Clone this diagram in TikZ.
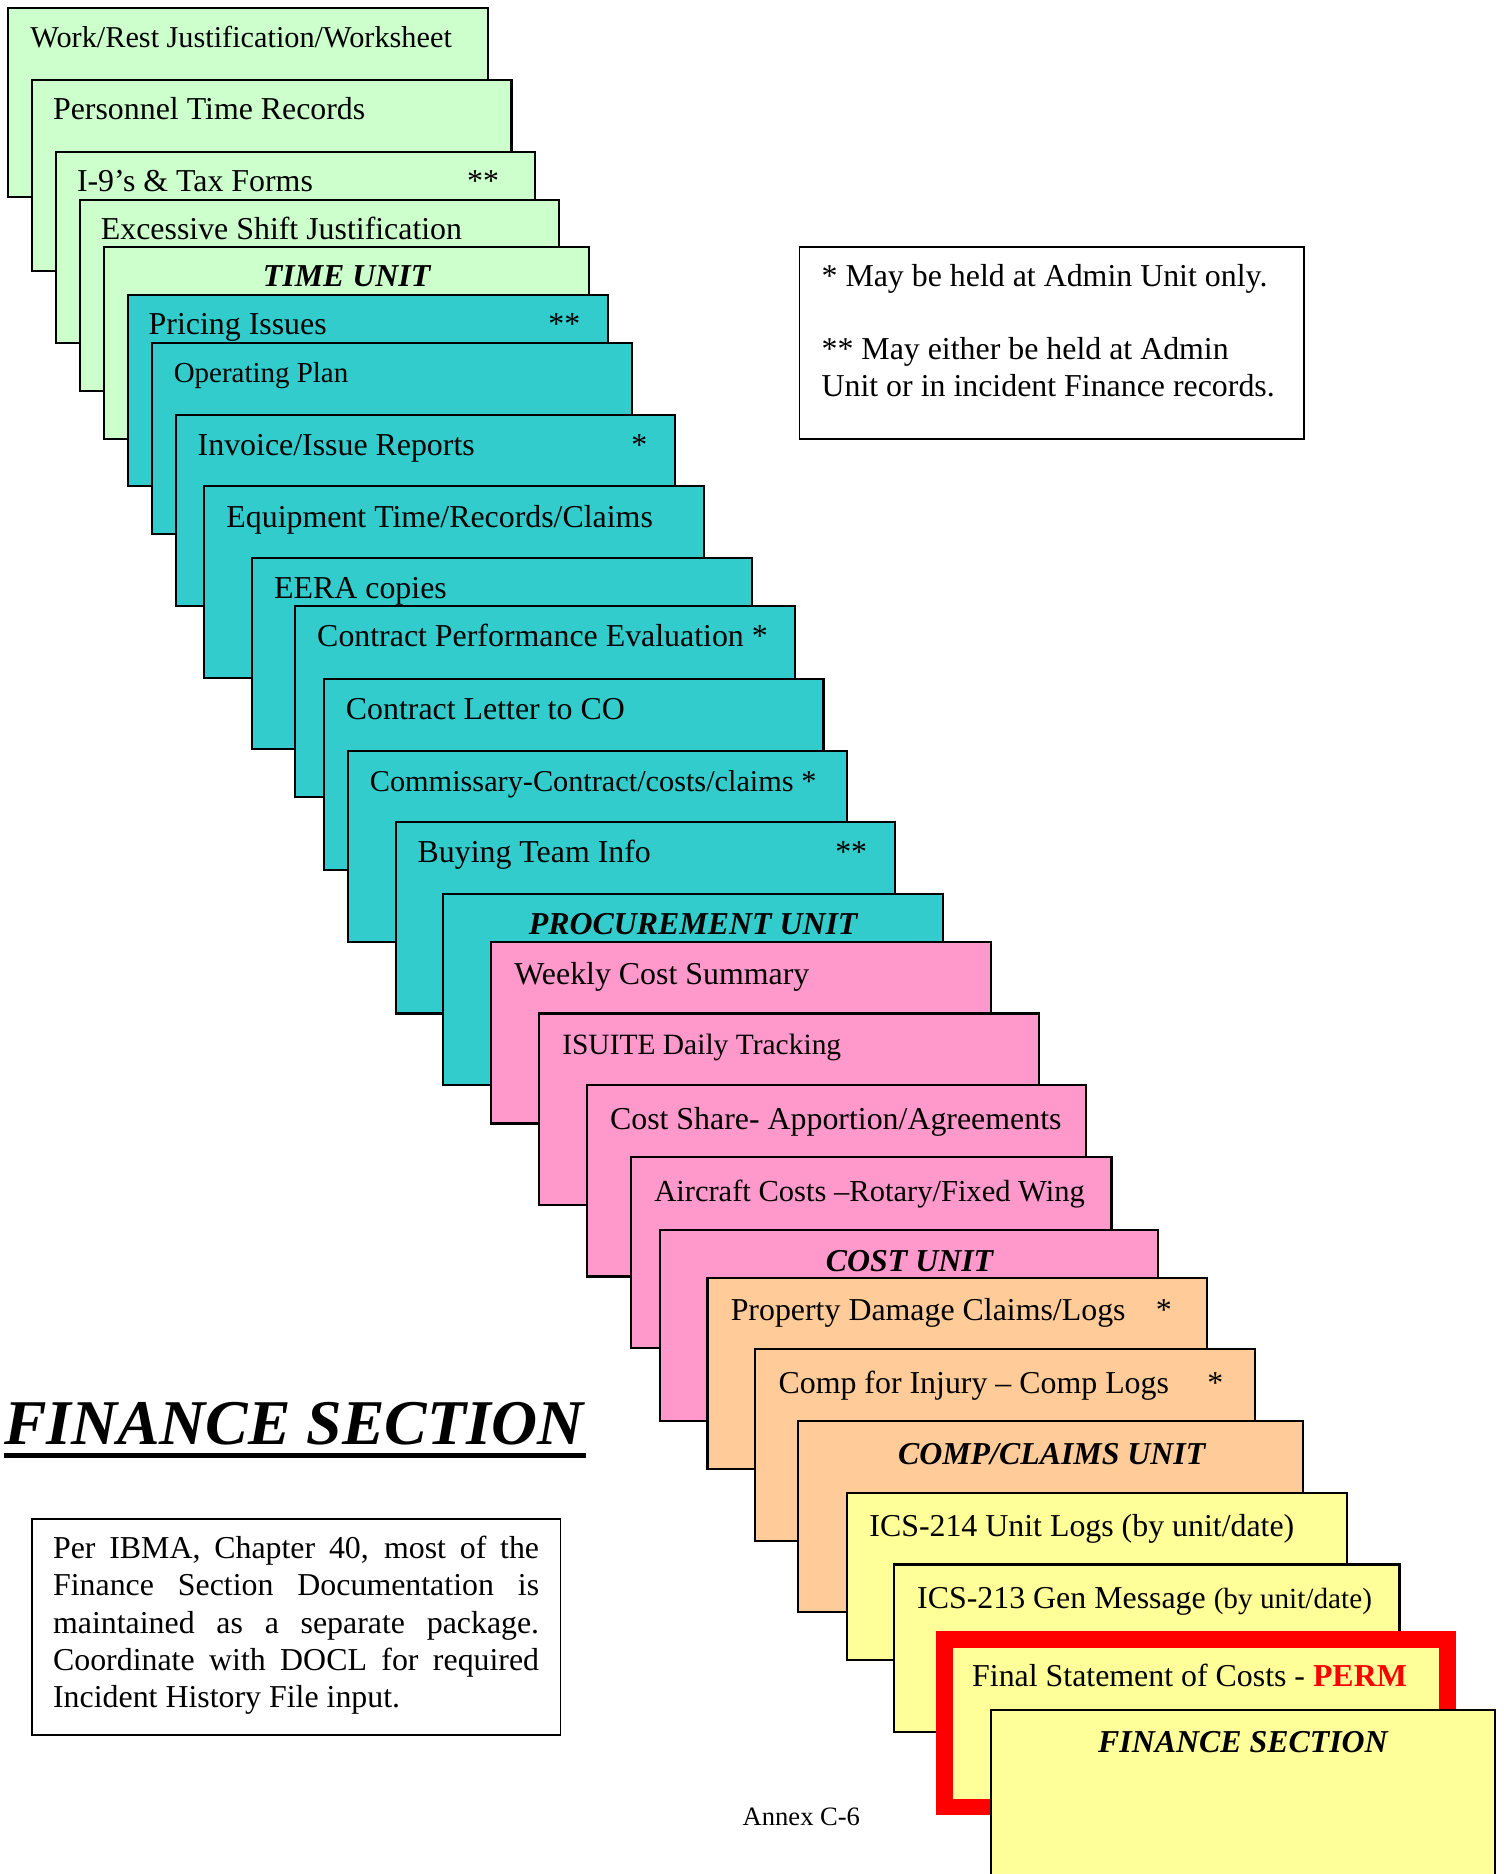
\documentclass[tikz,border=0pt]{standalone}
\usepackage{fontspec}
\setmainfont{Liberation Serif}
\usetikzlibrary{calc}
\definecolor{timegreen}{HTML}{CCFFCC}
\definecolor{procteal}{HTML}{33CCCC}
\definecolor{costpink}{HTML}{FF99CC}
\definecolor{claimpeach}{HTML}{FFCC99}
\definecolor{finyellow}{HTML}{FFFF99}
\tikzset{
  card/.style={draw=black, line width=0.8pt},
  redframe/.style={draw=red, line width=6.3pt},
  cardtext/.style={anchor=base west, inner sep=0pt, font=\fontsize{12}{14}\selectfont},
  smalltext/.style={cardtext, font=\fontsize{#1}{13}\selectfont},
  starmark/.style={anchor=base east, inner sep=0pt, font=\fontsize{12}{14}\selectfont},
  unittitle/.style={anchor=base, inner sep=0pt, font=\fontsize{12}{14}\selectfont\bfseries\itshape},
  notetext/.style={anchor=base west, inner sep=0pt, font=\fontsize{12}{14}\selectfont},
}

\begin{document}
\begin{tikzpicture}[x=0.45pt, y=-0.45pt]
			%%%%% START %%%%%
			\useasboundingbox (0,0) rectangle (1258,1568);
			
			% time unit
			\draw[card, fill=timegreen] (7,7) rectangle (408,165);
			\node[smalltext=11.4] (worksheet) at (25,40) {Work/Rest Justification/Worksheet};
			\draw[card, fill=timegreen] (27,67) rectangle (428,227);
			\node[cardtext] (personnel) at (44,100) {Personnel Time Records};
			\draw[card, fill=timegreen] (47,127) rectangle (448,287);
			\node[cardtext] (taxforms) at (64,160) {I-9’s \& Tax Forms};
			\node[starmark] (taxstar) at (418,160) {**};
			\draw[card, fill=timegreen] (67,167) rectangle (468,327);
			\node[cardtext] (shift) at (84,200) {Excessive Shift Justification};
			\draw[card, fill=timegreen] (87,207) rectangle (493,367);
			\node[unittitle] (timeunit) at (290,240) {TIME UNIT};
			
			% procurement unit
			\draw[card, fill=procteal] (107,247) rectangle (509,407);
			\node[cardtext] (pricing) at (124,280) {Pricing Issues};
			\node[starmark] (pricingstar) at (486,280) {**};
			\draw[card, fill=procteal] (127,287) rectangle (529,447);
			\node[smalltext=10.9] (opplan) at (145,320) {Operating Plan};
			\draw[card, fill=procteal] (147,347) rectangle (565,507);
			\node[cardtext] (invoice) at (165,381) {Invoice/Issue Reports};
			\node[starmark] (invoicestar) at (542,381) {*};
			\draw[card, fill=procteal] (171,407) rectangle (589,567);
			\node[cardtext] (equipment) at (189,441) {Equipment Time/Records/Claims};
			\draw[card, fill=procteal] (211,467) rectangle (629,627);
			\node[cardtext] (eera) at (229,501) {EERA copies};
			\draw[card, fill=procteal] (247,507) rectangle (665,667);
			\node[cardtext] (perf) at (265,541) {Contract Performance Evaluation *};
			\draw[card, fill=procteal] (271,568) rectangle (689,728);
			\node[cardtext] (coletter) at (289,602) {Contract Letter to CO};
			\draw[card, fill=procteal] (291,628) rectangle (709,788);
			\node[smalltext=11.4] (commissary) at (309,662) {Commissary-Contract/costs/claims *};
			\draw[card, fill=procteal] (331,688) rectangle (749,848);
			\node[cardtext] (buying) at (349,722) {Buying Team Info};
			\node[starmark] (buyingstar) at (726,722) {**};
			\draw[card, fill=procteal] (371,748) rectangle (789,908);
			\node[unittitle] (procunit) at (580,782) {PROCUREMENT UNIT};
			
			% cost unit
			\draw[card, fill=costpink] (411,788) rectangle (829,940);
			\node[cardtext] (weekly) at (430,824) {Weekly Cost Summary};
			\draw[card, fill=costpink] (451,848) rectangle (869,1008);
			\node[smalltext=11.1] (isuite) at (470,882) {ISUITE Daily Tracking};
			\draw[card, fill=costpink] (491,908) rectangle (909,1068);
			\node[cardtext] (costshare) at (510,945) {Cost Share- Apportion/Agreements};
			\draw[card, fill=costpink] (528,968) rectangle (930,1128);
			\node[smalltext=11.5] (aircraft) at (547,1005) {Aircraft Costs –Rotary/Fixed Wing};
			\draw[card, fill=costpink] (552,1029) rectangle (969,1189);
			\node[unittitle] (costunit) at (761,1064) {COST UNIT};
			
			% comp/claims unit
			\draw[card, fill=claimpeach] (592,1069) rectangle (1010,1229);
			\node[cardtext] (property) at (611,1105) {Property Damage Claims/Logs};
			\node[starmark] (propertystar) at (981,1105) {*};
			\draw[card, fill=claimpeach] (632,1129) rectangle (1050,1289);
			\node[cardtext] (injury) at (651,1166) {Comp for Injury – Comp Logs};
			\node[starmark] (injurystar) at (1024,1166) {*};
			\draw[card, fill=claimpeach] (668,1189) rectangle (1090,1349);
			\node[unittitle] (claimsunit) at (880,1225) {COMP/CLAIMS UNIT};
			
			% finance section
			\draw[card, fill=finyellow] (709,1249) rectangle (1127,1389);
			\node[cardtext] (ics214) at (727,1286) {ICS-214 Unit Logs (by unit/date)};
			\draw[card, fill=finyellow] (748,1309) rectangle (1171,1449);
			\node[cardtext] (ics213) at (767,1346) {ICS-213 Gen Message {\fontsize{11}{13}\selectfont(by unit/date)}};
			\draw[redframe, fill=finyellow] (790,1372) rectangle (1211,1512);
			\node[cardtext] (finalcosts) at (813,1411) {Final Statement of Costs - \textcolor{red}{\bfseries PERM}};
			\draw[card, fill=finyellow] (829,1431) rectangle (1251,1600);
			\node[unittitle] (finunit) at (1040,1466) {FINANCE SECTION};
			
			% legend
			\draw[card, line width=0.7pt] (669,207) rectangle (1091,367);
			\node[notetext] (legendone) at (687,240) {* May be held at Admin Unit only.};
			\node[notetext] (legendtwo) at (687,301) {** May either be held at Admin};
			\node[notetext] (legendthree) at (687,332) {Unit or in incident Finance records.};
			
			% title and note
			\node[anchor=base west, inner sep=0pt, font=\fontsize{24}{28}\selectfont\bfseries\itshape] (sectiontitle) at (3,1209) {FINANCE SECTION};
			\draw[line width=1.75pt] ($(sectiontitle.base west)+(0,9)$) -- ($(sectiontitle.base east)+(2,9)$);
			
			\draw[card, line width=0.7pt] (27,1271) rectangle (469,1452);
			\node[notetext] (noteone) at (44,1304) {\makebox[183pt][s]{Per IBMA, Chapter 40, most of the}};
			\node[notetext] (notetwo) at (44,1335) {\makebox[183pt][s]{Finance Section Documentation is}};
			\node[notetext] (notethree) at (44,1366.5) {\makebox[183pt][s]{maintained as a separate package.}};
			\node[notetext] (notefour) at (44,1398) {\makebox[183pt][s]{Coordinate with DOCL for required}};
			\node[notetext] (notefive) at (44,1429) {Incident History File input.};
			
			\node[anchor=base west, inner sep=0pt, font=\fontsize{10}{12}\selectfont] (annex) at (621,1527) {Annex C-6};
			%%%%% END %%%%%
		\end{tikzpicture}
\end{document}
